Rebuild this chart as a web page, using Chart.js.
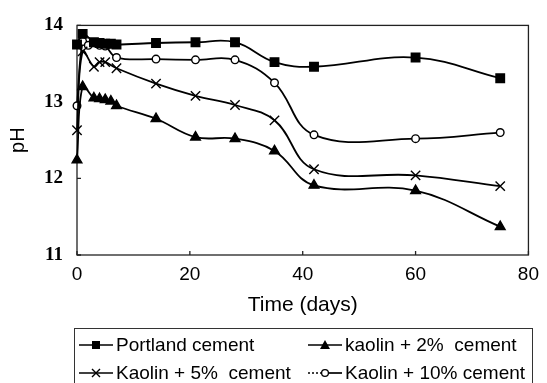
<!DOCTYPE html>
<html>
<head>
<meta charset="utf-8">
<script src="https://cdn.jsdelivr.net/npm/chart.js@4/dist/chart.umd.min.js"></script>
<style>
  html, body { margin: 0; padding: 0; background: #fff; overflow: hidden; }
  #wrap { position: relative; width: 547px; height: 383px; }
  #legend {
    position: absolute; left: 74px; top: 328px; width: 459px; height: 70px;
    border: 1px solid #333; box-sizing: border-box;
    font-family: "Liberation Sans", Arial, sans-serif; font-size: 19px; color: #000;
  }
  .item { position: absolute; height: 28px; display: flex; align-items: center; white-space: pre; }
  .item svg { margin-right: 3px; }
</style>
</head>
<body>
<div id="wrap">
  <canvas id="phChart" width="547" height="383"></canvas>
  <div id="legend"></div>
</div>
<script>
// pH over time
const portlandDays = [0, 1, 3, 4, 5, 6, 7, 14, 21, 28, 35, 42, 60, 75];
const portlandPH   = [13.75, 13.89, 13.78, 13.77, 13.76, 13.76, 13.75, 13.77, 13.78, 13.78, 13.52, 13.46, 13.58, 13.31];

const kaolin2Days = [0, 1, 3, 4, 5, 6, 7, 14, 21, 28, 35, 42, 60, 75];
const kaolin2PH   = [12.24, 13.2, 13.05, 13.04, 13.03, 13.01, 12.95, 12.78, 12.54, 12.52, 12.36, 11.91, 11.84, 11.37];

const kaolin5Days = [0, 1, 3, 4, 5, 7, 14, 21, 28, 35, 42, 60, 75];
const kaolin5PH   = [12.63, 13.66, 13.46, 13.52, 13.52, 13.44, 13.24, 13.08, 12.96, 12.76, 12.12, 12.04, 11.9];

const kaolin10Days = [0, 1, 2, 4, 5, 7, 14, 21, 28, 35, 42, 60, 75];
const kaolin10PH   = [12.95, 13.79, 13.74, 13.74, 13.73, 13.58, 13.56, 13.55, 13.55, 13.25, 12.57, 12.52, 12.6];

const seriesNames = ['Portland cement', 'kaolin + 2%  cement', 'Kaolin + 5%  cement', 'Kaolin + 10% cement'];

const xTicks = [0, 20, 40, 60, 80];
const yTicks = [11, 12, 13, 14];

function toPoints(days, vals) {
    return days.map((d, i) => ({ x: d, y: vals[i] }));
}

function series(label, days, vals, style, radius, fill) {
    return {
        label: label,
        data: toPoints(days, vals),
        borderColor: '#000',
        borderWidth: 1.8,
        tension: 0.4,
        pointStyle: style,
        pointRadius: radius,
        pointBorderWidth: 1.4,
        pointBorderColor: '#000',
        pointBackgroundColor: fill,
        clip: false
    };
}

// box around the plot with small inward ticks
const framePlugin = {
    id: 'frame',
    beforeDatasetsDraw(chart) {
        const { ctx, chartArea: a, scales } = chart;
        ctx.save();
        ctx.strokeStyle = '#222';
        ctx.lineWidth = 1.3;
        ctx.strokeRect(a.left, a.top, a.right - a.left, a.bottom - a.top);
        ctx.beginPath();
        xTicks.forEach(v => {
            const px = scales.x.getPixelForValue(v);
            ctx.moveTo(px, a.bottom);
            ctx.lineTo(px, a.bottom - 4);
        });
        yTicks.forEach(v => {
            const py = scales.y.getPixelForValue(v);
            ctx.moveTo(a.left, py);
            ctx.lineTo(a.left + 4, py);
        });
        ctx.stroke();
        ctx.restore();
    }
};

const ctx = document.getElementById('phChart').getContext('2d');

const chart = new Chart(ctx, {
    type: 'line',
    data: {
        datasets: [
            series(seriesNames[0], portlandDays, portlandPH, 'rect', 6, '#000'),
            series(seriesNames[1], kaolin2Days, kaolin2PH, 'triangle', 5.6, '#000'),
            series(seriesNames[2], kaolin5Days, kaolin5PH, 'crossRot', 6.6, '#000'),
            series(seriesNames[3], kaolin10Days, kaolin10PH, 'circle', 3.8, '#fff')
        ]
    },
    options: {
        responsive: false,
        devicePixelRatio: 1,
        animation: false,
        layout: { padding: { left: 0, right: 16, top: 13, bottom: 65 } },
        plugins: { legend: { display: false }, tooltip: { enabled: false } },
        scales: {
            x: {
                type: 'linear',
                min: 0,
                max: 80,
                afterBuildTicks: s => { s.ticks = xTicks.map(v => ({ value: v })); },
                afterFit: s => { s.height = 63; },
                grid: { display: false, drawTicks: false },
                border: { display: false },
                ticks: {
                    padding: 8,
                    color: '#000',
                    font: { family: '"Liberation Sans", Arial, sans-serif', size: 19 }
                },
                title: {
                    display: true,
                    text: 'Time (days)',
                    color: '#000',
                    padding: { top: 0, bottom: 0 },
                    font: { family: '"Liberation Sans", Arial, sans-serif', size: 21 }
                }
            },
            y: {
                type: 'linear',
                min: 11,
                max: 14,
                afterBuildTicks: s => { s.ticks = yTicks.map(v => ({ value: v })); },
                afterFit: s => { s.width = 77; },
                grid: { display: false, drawTicks: false },
                border: { display: false },
                ticks: {
                    padding: 14,
                    color: '#000',
                    font: { family: '"Liberation Serif", "Times New Roman", serif', size: 19, weight: 'bold' }
                },
                title: {
                    display: true,
                    text: 'pH',
                    color: '#000',
                    padding: { top: 6, bottom: 0 },
                    font: { family: '"Liberation Sans", Arial, sans-serif', size: 20 }
                }
            }
        }
    },
    plugins: [framePlugin]
});

// legend: two columns in a box below the plot
const glyphs = [
    '<rect x="13" y="3" width="8" height="8" fill="#000"/>',
    '<polygon points="17,2 22,11 12,11" fill="#000"/>',
    '<path d="M13,3 L21,11 M21,3 L13,11" stroke="#000" stroke-width="1.4"/>',
    '<circle cx="17" cy="7" r="3.4" fill="#fff" stroke="#000" stroke-width="1.3"/>'
];
const lineSegs = [
    '<line x1="0" y1="7" x2="34" y2="7" stroke="#000" stroke-width="1.7"/>',
    '<line x1="0" y1="7" x2="34" y2="7" stroke="#000" stroke-width="1.7"/>',
    '<line x1="0" y1="7" x2="34" y2="7" stroke="#000" stroke-width="1.7"/>',
    '<line x1="0" y1="7" x2="13" y2="7" stroke="#000" stroke-width="1.7" stroke-dasharray="2 2"/>' +
    '<line x1="20" y1="7" x2="34" y2="7" stroke="#000" stroke-width="1.7"/>'
];
const legendPos = [[4, 2], [233, 2], [4, 30], [233, 30]];
const legendEl = document.getElementById('legend');
seriesNames.forEach((name, i) => {
    const div = document.createElement('div');
    div.className = 'item';
    div.style.left = legendPos[i][0] + 'px';
    div.style.top = legendPos[i][1] + 'px';
    div.innerHTML = '<svg width="34" height="14">' + lineSegs[i] + glyphs[i] + '</svg><span>' + name + '</span>';
    legendEl.appendChild(div);
});
</script>
</body>
</html>
